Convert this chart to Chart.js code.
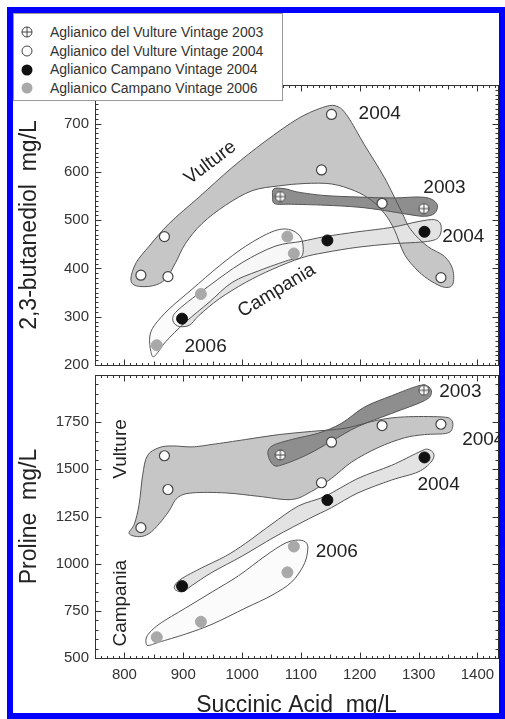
<!DOCTYPE html>
<html>
<head>
<meta charset="utf-8">
<script src="https://cdn.jsdelivr.net/npm/chart.js@4.4.1/dist/chart.umd.min.js"></script>
<style>
  html, body { margin: 0; padding: 0; background: #fff; }
  body { width: 505px; height: 719px; position: relative; overflow: hidden; font-family: "Liberation Sans", Arial, sans-serif; }
  canvas { position: absolute; left: 0; }
  #top-chart { top: 70px; }
  #bottom-chart { top: 360px; }
  #frame { position: absolute; left: 7px; top: 7px; width: 498px; height: 712px; box-sizing: border-box; border: 6px solid #0000ff; pointer-events: none; }
  #legend { position: absolute; left: 13px; top: 13px; width: 270px; height: 88px; box-sizing: border-box; border: 1px solid #999; background: #fff; padding-top: 9px; font-size: 14px; color: #333; }
  #legend div { height: 18.7px; line-height: 18.7px; white-space: nowrap; }
  #legend svg { display: inline-block; vertical-align: middle; margin: 0 17px 0 7px; position: relative; top: -1px; }
</style>
</head>
<body>
<canvas id="top-chart" width="505" height="310"></canvas>
<canvas id="bottom-chart" width="505" height="359"></canvas>
<div id="legend">
  <div><svg width="12" height="12"><circle cx="6" cy="6" r="5" fill="#fff" stroke="#444"/><path d="M6 1V11M1 6H11" stroke="#444"/></svg>Aglianico del Vulture Vintage 2003</div>
  <div><svg width="12" height="12"><circle cx="6" cy="6" r="5" fill="#fff" stroke="#444"/></svg>Aglianico del Vulture Vintage 2004</div>
  <div><svg width="12" height="12"><circle cx="6" cy="6" r="5.5" fill="#111"/></svg>Aglianico Campano Vintage 2004</div>
  <div><svg width="12" height="12"><circle cx="6" cy="6" r="5.5" fill="#a9a9a9"/></svg>Aglianico Campano Vintage 2006</div>
</div>
<div id="frame"></div>
<script>
// tick labels
const succinicTicks = [800, 900, 1000, 1100, 1200, 1300, 1400]
const butanediolTicks = [200, 300, 400, 500, 600, 700]
const prolineTicks = [500, 750, 1000, 1250, 1500, 1750]

// Aglianico del Vulture 2004
const vulture2004Succinic = [828, 868, 874, 1152, 1135, 1238, 1338]
const vulture2004Butanediol = [386, 466, 383, 719, 604, 535, 381]
const vulture2004Proline = [1191, 1572, 1393, 1644, 1429, 1732, 1739]

// Aglianico del Vulture 2003
const vulture2003Succinic = [1065, 1309]
const vulture2003Butanediol = [549, 524]
const vulture2003Proline = [1576, 1919]

// Aglianico Campano 2004
const campano2004Succinic = [898, 1145, 1310]
const campano2004Butanediol = [296, 458, 476]
const campano2004Proline = [881, 1337, 1563]

// Aglianico Campano 2006
const campano2006Succinic = [855, 930, 1077, 1088]
const campano2006Butanediol = [241, 347, 466, 431]
const campano2006Proline = [610, 692, 954, 1091]

// hand drawn group outlines (succinic, value)
const vultureButanediolHull = [[811,378],[820,412],[842,446],[876,493],[927,548],[983,609],[1039,663],[1096,711],[1141,735],[1163,735],[1180,714],[1208,656],[1242,588],[1270,520],[1287,480],[1315,446],[1344,425],[1358,398],[1358,367],[1344,361],[1321,374],[1299,395],[1276,429],[1259,480],[1242,514],[1220,541],[1191,561],[1152,575],[1107,576],[1062,571],[1017,561],[972,531],[932,493],[904,452],[887,412],[870,378],[848,364],[820,364]]
const vulture2003ButanediolHull = [[1054,565],[1073,565],[1096,558],[1141,551],[1197,548],[1254,546],[1299,548],[1321,544],[1332,531],[1327,514],[1310,508],[1282,512],[1242,520],[1197,527],[1141,531],[1084,533],[1056,534],[1052,548]]
const campano2004ButanediolHull = [[882,296],[893,316],[944,364],[1000,412],[1056,446],[1101,456],[1141,466],[1197,476],[1254,485],[1299,497],[1327,501],[1338,490],[1335,466],[1315,456],[1254,451],[1197,444],[1141,433],[1101,422],[1051,398],[1006,371],[961,337],[927,303],[910,282],[890,281]]
const campano2006ButanediolHull = [[843,258],[851,282],[876,316],[915,357],[961,405],[1006,446],[1051,476],[1079,481],[1099,466],[1104,439],[1099,422],[1079,417],[1028,395],[983,371],[944,330],[904,289],[870,248],[851,218],[845,228]]

const vultureProlineHull = [[808,1160],[817,1211],[825,1314],[831,1469],[839,1572],[859,1615],[882,1624],[915,1619],[949,1632],[1006,1658],[1062,1684],[1118,1701],[1175,1718],[1231,1761],[1276,1778],[1338,1778],[1355,1765],[1358,1727],[1349,1692],[1310,1684],[1276,1667],[1231,1615],[1186,1538],[1152,1452],[1118,1383],[1084,1340],[1028,1357],[972,1375],[915,1375],[890,1349],[876,1280],[859,1211],[842,1160],[825,1143]]
const vulture2003ProlineHull = [[1044,1581],[1051,1624],[1084,1658],[1130,1692],[1169,1744],[1208,1830],[1254,1890],[1299,1942],[1315,1942],[1322,1907],[1310,1864],[1254,1796],[1197,1727],[1152,1649],[1113,1581],[1073,1529],[1054,1521]]
const campano2004ProlineHull = [[885,868],[893,911],[927,971],[972,1040],[1006,1108],[1051,1211],[1096,1306],[1141,1357],[1197,1452],[1254,1521],[1299,1589],[1315,1607],[1326,1581],[1321,1538],[1299,1486],[1254,1443],[1197,1375],[1152,1297],[1113,1237],[1056,1143],[1000,1040],[949,954],[915,885],[899,851]]
const campano2006ProlineHull = [[837,576],[839,619],[859,679],[904,765],[949,850],[994,936],[1039,1040],[1073,1108],[1096,1125],[1110,1108],[1111,1057],[1104,988],[1084,902],[1051,833],[1006,765],[949,679],[904,627],[859,584],[842,567]]

Chart.defaults.font.family = "'Liberation Sans', Arial, sans-serif"
Chart.defaults.color = "#333"

const FONT = "'Liberation Sans', Arial, sans-serif"

// circle with a cross, used for the 2003 samples
function crossCircle() {
  const c = document.createElement("canvas")
  c.width = 12
  c.height = 12
  const g = c.getContext("2d")
  g.beginPath()
  g.arc(6, 6, 5, 0, Math.PI * 2)
  g.fillStyle = "#fff"
  g.fill()
  g.strokeStyle = "#444"
  g.lineWidth = 1
  g.stroke()
  g.beginPath()
  g.moveTo(6, 1); g.lineTo(6, 11)
  g.moveTo(1, 6); g.lineTo(11, 6)
  g.stroke()
  return c
}
const crossImg = crossCircle()

function pts(xs, ys) {
  return xs.map((x, i) => ({ x, y: ys[i] }))
}

// closed catmull-rom path in pixel space
function smoothPath(p) {
  const path = new Path2D()
  const n = p.length
  path.moveTo(p[0][0], p[0][1])
  for (let i = 0; i < n; i++) {
    const p0 = p[(i - 1 + n) % n], p1 = p[i], p2 = p[(i + 1) % n], p3 = p[(i + 2) % n]
    path.bezierCurveTo(
      p1[0] + (p2[0] - p0[0]) / 6, p1[1] + (p2[1] - p0[1]) / 6,
      p2[0] - (p3[0] - p1[0]) / 6, p2[1] - (p3[1] - p1[1]) / 6,
      p2[0], p2[1])
  }
  path.closePath()
  return path
}

const blobPlugin = {
  id: "blobs",
  beforeDatasetsDraw(chart, args, opts) {
    const { ctx, chartArea: a, scales: { x, y } } = chart
    ctx.save()
    ctx.beginPath()
    ctx.rect(a.left, a.top, a.right - a.left, a.bottom - a.top)
    ctx.clip()
    const paths = opts.shapes.map((s) =>
      smoothPath(s.hull.map(([vx, vy]) => [x.getPixelForValue(vx), y.getPixelForValue(vy)])))
    opts.shapes.forEach((s, i) => {
      ctx.fillStyle = s.fill
      ctx.fill(paths[i])
    })
    ctx.strokeStyle = "#555"
    ctx.lineWidth = 1
    paths.forEach((p) => ctx.stroke(p))
    ctx.restore()
  },
}

// box round the plot with inward ticks on every side
const framePlugin = {
  id: "frame",
  afterDatasetsDraw(chart, args, opts) {
    const { ctx, chartArea: a, scales: { x, y } } = chart
    ctx.save()
    ctx.strokeStyle = "#333"
    ctx.lineWidth = 1
    const L = Math.round(a.left) + 0.5, R = Math.round(a.right) + 0.5
    const T = Math.round(a.top) + 0.5, B = Math.round(a.bottom) + 0.5
    ctx.strokeRect(L, T, R - L, B - T)
    ctx.beginPath()
    for (let v = Math.ceil(x.min / 10) * 10; v <= x.max; v += 10) {
      const px = Math.round(x.getPixelForValue(v)) + 0.5
      const len = v % 100 === 0 ? 6 : v % 50 === 0 ? 4 : 2.5
      ctx.moveTo(px, T); ctx.lineTo(px, T + len)
      ctx.moveTo(px, B); ctx.lineTo(px, B - len)
    }
    for (let v = Math.ceil(y.min / opts.minor) * opts.minor; v <= y.max; v += opts.minor) {
      const py = Math.round(y.getPixelForValue(v)) + 0.5
      const len = v % opts.major === 0 ? 6 : 3
      ctx.moveTo(L, py); ctx.lineTo(L + len, py)
      ctx.moveTo(R, py); ctx.lineTo(R - len, py)
    }
    ctx.stroke()
    ctx.restore()
  },
}

const notesPlugin = {
  id: "notes",
  afterDatasetsDraw(chart, args, opts) {
    const { ctx, scales: { x, y } } = chart
    ctx.save()
    ctx.font = "19px " + FONT
    ctx.fillStyle = "#222"
    ctx.textAlign = "center"
    ctx.textBaseline = "middle"
    opts.items.forEach((n) => {
      ctx.save()
      ctx.translate(x.getPixelForValue(n.x), y.getPixelForValue(n.y))
      ctx.rotate(((n.angle || 0) * Math.PI) / 180)
      ctx.fillText(n.text, 0, 0)
      ctx.restore()
    })
    ctx.restore()
  },
}

function pointSets(yVulture04, yVulture03, yCampano04, yCampano06) {
  return [
    {
      label: "Aglianico del Vulture Vintage 2004",
      data: pts(vulture2004Succinic, yVulture04),
      pointStyle: "circle",
      backgroundColor: "#fff",
      borderColor: "#444",
      borderWidth: 1.2,
      pointRadius: 5,
    },
    {
      label: "Aglianico del Vulture Vintage 2003",
      data: pts(vulture2003Succinic, yVulture03),
      pointStyle: crossImg,
      pointRadius: 6,
    },
    {
      label: "Aglianico Campano Vintage 2004",
      data: pts(campano2004Succinic, yCampano04),
      backgroundColor: "#111",
      borderColor: "#111",
      pointRadius: 5.5,
    },
    {
      label: "Aglianico Campano Vintage 2006",
      data: pts(campano2006Succinic, yCampano06),
      backgroundColor: "#a9a9a9",
      borderColor: "#a9a9a9",
      pointRadius: 5.5,
    },
  ]
}

function yScale(min, max, ticks, title) {
  return {
    min: min,
    max: max,
    afterBuildTicks: (s) => { s.ticks = ticks.map((v) => ({ value: v })) },
    afterFit: (s) => { s.width = 95 },
    ticks: { font: { size: 15 }, color: "#333", padding: 6, callback: (v) => String(v) },
    grid: { display: false, drawTicks: false },
    border: { display: false },
    title: { display: true, text: title, font: { size: 23 }, color: "#222", padding: { top: 16, bottom: 0 } },
  }
}

const xMin = 750
const xMax = 1435

// 2,3-butanediol panel
new Chart(document.getElementById("top-chart"), {
  type: "scatter",
  data: {
    datasets: pointSets(vulture2004Butanediol, vulture2003Butanediol, campano2004Butanediol, campano2006Butanediol),
  },
  options: {
    responsive: false,
    animation: false,
    layout: { padding: { top: 13, right: 5, bottom: 13, left: 0 } },
    plugins: {
      legend: { display: false },
      tooltip: { enabled: false },
      blobs: {
        shapes: [
          { hull: vultureButanediolHull, fill: "#c6c6c6" },
          { hull: vulture2003ButanediolHull, fill: "#8e8e8e" },
          { hull: campano2004ButanediolHull, fill: "#e3e3e3" },
          { hull: campano2006ButanediolHull, fill: "rgba(250,250,250,0.85)" },
        ],
      },
      frame: { minor: 10, major: 100 },
      notes: {
        items: [
          { text: "2004", x: 1234, y: 721 },
          { text: "2003", x: 1344, y: 568 },
          { text: "2004", x: 1376, y: 465 },
          { text: "2006", x: 938, y: 238 },
          { text: "Vulture", x: 946, y: 619, angle: -37 },
          { text: "Campania", x: 1059, y: 354, angle: -31 },
        ],
      },
    },
    scales: {
      x: { type: "linear", min: xMin, max: xMax, display: false },
      y: yScale(200, 780, butanediolTicks, "2,3-butanediol  mg/L"),
    },
  },
  plugins: [blobPlugin, framePlugin, notesPlugin],
})

// proline panel
new Chart(document.getElementById("bottom-chart"), {
  type: "scatter",
  data: {
    datasets: pointSets(vulture2004Proline, vulture2003Proline, campano2004Proline, campano2006Proline),
  },
  options: {
    responsive: false,
    animation: false,
    layout: { padding: { top: 7, right: 5, bottom: 0, left: 0 } },
    plugins: {
      legend: { display: false },
      tooltip: { enabled: false },
      blobs: {
        shapes: [
          { hull: vultureProlineHull, fill: "#c6c6c6" },
          { hull: campano2004ProlineHull, fill: "#e3e3e3" },
          { hull: vulture2003ProlineHull, fill: "#8e8e8e" },
          { hull: campano2006ProlineHull, fill: "rgba(250,250,250,0.85)" },
        ],
      },
      frame: { minor: 50, major: 250 },
      notes: {
        items: [
          { text: "2003", x: 1371, y: 1912 },
          { text: "2004", x: 1410, y: 1658 },
          { text: "2004", x: 1334, y: 1418 },
          { text: "2006", x: 1161, y: 1062 },
          { text: "Vulture", x: 794, y: 1608, angle: -90 },
          { text: "Campania", x: 794, y: 790, angle: -90 },
        ],
      },
    },
    scales: {
      x: {
        type: "linear",
        min: xMin,
        max: xMax,
        afterBuildTicks: (s) => { s.ticks = succinicTicks.map((v) => ({ value: v })) },
        afterFit: (s) => { s.height = 61 },
        ticks: { font: { size: 15 }, color: "#333", padding: 8, maxRotation: 0, callback: (v) => String(v) },
        grid: { display: false, drawTicks: false },
        border: { display: false },
        title: { display: true, text: "Succinic Acid  mg/L", font: { size: 23 }, color: "#222", padding: { top: 0, bottom: 0 } },
      },
      y: yScale(500, 2000, prolineTicks, "Proline  mg/L"),
    },
  },
  plugins: [blobPlugin, framePlugin, notesPlugin],
})
</script>
</body>
</html>
